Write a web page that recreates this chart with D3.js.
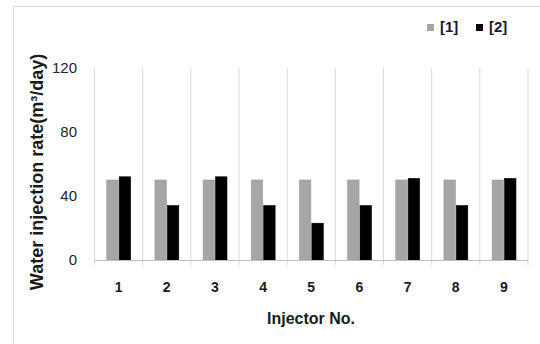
<!DOCTYPE html>
<html><head><meta charset="utf-8">
<script src="https://cdn.jsdelivr.net/npm/d3@7"></script>
<style>
body{margin:0;background:#fff;}
svg{display:block;font-family:"Liberation Sans Narrow","Liberation Sans",Arial,sans-serif;}
</style></head>
<body>
<script>
const categories = ["1","2","3","4","5","6","7","8","9"];
const seriesNames = ["[1]","[2]"];
const series1 = [50,50,50,50,50,50,50,50,50];
const series2 = [52,34,52,34,23,34,51,34,51];
const yTicks = [0,40,80,120];
const colors = ["#a6a6a6","#000000"];

const W=540,H=344;
const svg=d3.select("body").append("svg").attr("width",W).attr("height",H);
// outer frame
svg.append("rect").attr("x",13.5).attr("y",6.5).attr("width",W).attr("height",H)
  .attr("fill","none").attr("stroke","#d9d9d9");

const x0=d3.scaleBand().domain(categories).range([94.5,528]).paddingInner(0).paddingOuter(0);
const x1=d3.scaleBand().domain([0,1]).range([x0.bandwidth()*0.255,x0.bandwidth()*0.75]).paddingInner(0.08);
const y=d3.scaleLinear().domain([0,120]).range([260,68]);

// vertical gridlines at category boundaries
const bounds=categories.map(c=>x0(c)).concat([x0.range()[1]]);
svg.append("g").selectAll("line").data(bounds).join("line")
  .attr("x1",d=>d).attr("x2",d=>d).attr("y1",y(120)).attr("y2",y(0)+5)
  .attr("stroke","#d9d9d9").attr("stroke-width",1);

// bars
const data=categories.map((c,i)=>({c,v:[series1[i],series2[i]]}));
const g=svg.append("g");
data.forEach(d=>{
  d.v.forEach((v,k)=>{
    g.append("rect").attr("x",x0(d.c)+x1(k)).attr("width",x1.bandwidth())
     .attr("y",y(v)).attr("height",y(0)-y(v)).attr("fill",colors[k])
     .attr("stroke",k===0?"#9a9a9a":"#000").attr("stroke-width",0.6);
  });
});

// x axis line
svg.append("line").attr("x1",x0.range()[0]).attr("x2",x0.range()[1])
  .attr("y1",y(0)+0.5).attr("y2",y(0)+0.5).attr("stroke","#bfbfbf");

// x tick labels
svg.append("g").selectAll("text").data(categories).join("text")
  .attr("x",d=>x0(d)+x0.bandwidth()/2).attr("y",292)
  .attr("text-anchor","middle").attr("font-weight","bold").attr("font-size",14)
  .attr("fill","#1a1a1a").text(d=>d);

// y tick labels
svg.append("g").selectAll("text").data(yTicks).join("text")
  .attr("x",77).attr("y",d=>y(d)+5).attr("text-anchor","end")
  .attr("font-size",15).attr("fill","#262626").text(d=>d);

// axis titles
svg.append("text").attr("x",311).attr("y",324).attr("text-anchor","middle")
  .attr("font-weight","bold").attr("font-size",16).attr("fill","#1a1a1a").text("Injector No.");
svg.append("text").attr("transform","translate(43,172) rotate(-90)").attr("text-anchor","middle")
  .attr("font-weight","bold").attr("font-size",18).attr("fill","#1a1a1a")
  .text("Water injection rate(m³/day)");

// legend
const leg=svg.append("g");
const lx=[427,476];
seriesNames.forEach((n,k)=>{
  leg.append("rect").attr("x",lx[k]).attr("y",24).attr("width",7).attr("height",7).attr("fill",colors[k]);
  leg.append("text").attr("x",lx[k]+13).attr("y",32).attr("font-weight","bold").attr("font-size",15)
    .attr("fill","#1a1a2e").text(n);
});
</script>
</body></html>
